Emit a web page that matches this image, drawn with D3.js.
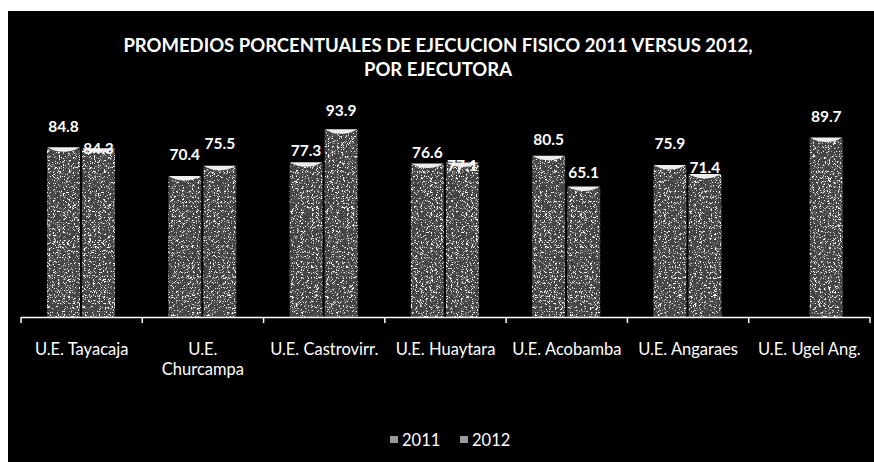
<!DOCTYPE html>
<html>
<head>
<meta charset="utf-8">
<style>
body { margin: 0; background: #fff; }
text { font-family: Lato, "Open Sans", sans-serif; fill: #fff; }
.title { font-weight: bold; font-size: 18.5px; }
.val { font-weight: bold; font-size: 15.5px; }
.cat { font-size: 16.5px; }
.leg { font-size: 16.5px; }
</style>
</head>
<body>
<svg width="874" height="462"></svg>
<script src="https://cdn.jsdelivr.net/npm/d3@7"></script>
<script>
// data
var categories = ["U.E. Tayacaja", "U.E. Churcampa", "U.E. Castrovirr.", "U.E. Huaytara", "U.E. Acobamba", "U.E. Angaraes", "U.E. Ugel Ang."];
var tickLabels = ["U.E. Tayacaja", "U.E.|Churcampa", "U.E. Castrovirr.", "U.E. Huaytara", "U.E. Acobamba", "U.E. Angaraes", "U.E. Ugel Ang."];
var years = ["2011", "2012"];
var v2011 = [84.8, 70.4, 77.3, 76.6, 80.5, 75.9, null];
var v2012 = [84.3, 75.5, 93.9, 77.1, 65.1, 71.4, 89.7];
// how high each data label sits above its bar (excel moved a few)
var lift2011 = [22, 22, 13, 12, 17, 22, 22];
var lift2012 = [1, 23, 20, -2, 15, 7, 22];

var svg = d3.select("svg");

svg.append("rect")
    .attr("x", 8).attr("y", 11)
    .attr("width", 866).attr("height", 451)
    .attr("fill", "#000");

var defs = svg.append("defs");
var f = defs.append("filter").attr("id", "grain")
    .attr("x", 0).attr("y", 0).attr("width", 1).attr("height", 1);
f.append("feTurbulence")
    .attr("type", "fractalNoise")
    .attr("baseFrequency", 2.2)
    .attr("numOctaves", 1)
    .attr("seed", 4)
    .attr("result", "n");
f.append("feColorMatrix")
    .attr("in", "n")
    .attr("type", "matrix")
    .attr("values", "0 0 0 0 1  0 0 0 0 1  0 0 0 0 1  10 0 0 0 -5.6")
    .attr("result", "dots");
f.append("feComposite")
    .attr("in", "dots").attr("in2", "SourceGraphic").attr("operator", "in");

svg.append("text")
    .attr("class", "title")
    .attr("x", 438).attr("y", 52)
    .attr("text-anchor", "middle")
    .text("PROMEDIOS PORCENTUALES DE EJECUCION FISICO 2011 VERSUS 2012,");
svg.append("text")
    .attr("class", "title")
    .attr("x", 438).attr("y", 76)
    .attr("text-anchor", "middle")
    .text("POR EJECUTORA");

var x = d3.scaleBand()
    .domain(categories)
    .range([21, 870]);
var x1 = d3.scaleBand()
    .domain(years)
    .range([26, 94])
    .paddingInner(0.06);
var y = d3.scaleLinear()
    .domain([0, 100])
    .range([317, 118]);

var rows = [];
categories.forEach(function(c, i) {
  rows.push({cat: c, year: "2011", value: v2011[i], lift: lift2011[i]});
  rows.push({cat: c, year: "2012", value: v2012[i], lift: lift2012[i]});
});
rows = rows.filter(function(d) { return d.value != null; });

var bars = svg.append("g").selectAll("g")
    .data(rows)
  .enter().append("g")
    .attr("transform", function(d) { return "translate(" + (x(d.cat) + x1(d.year)) + ",0)"; });

bars.append("rect")
    .attr("y", function(d) { return y(d.value); })
    .attr("width", x1.bandwidth())
    .attr("height", function(d) { return y(0) - y(d.value); })
    .attr("fill", "#444");
bars.append("rect")
    .attr("y", function(d) { return y(d.value); })
    .attr("width", x1.bandwidth())
    .attr("height", function(d) { return y(0) - y(d.value); })
    .attr("fill", "#000")
    .attr("filter", "url(#grain)");
// light cap at the top of each column
bars.append("path")
    .attr("fill", "#eee")
    .attr("d", function(d) {
      var w = x1.bandwidth(), t = y(d.value);
      return "M0," + (t - 1) + "L" + w + "," + (t - 1) +
        "Q" + (w / 2) + "," + (t + 8) + " 0," + (t - 1) + "Z";
    });

bars.append("text")
    .attr("class", "val")
    .attr("x", x1.bandwidth() / 2)
    .attr("y", function(d) { return y(d.value) - d.lift; })
    .attr("dy", "0.35em")
    .attr("text-anchor", "middle")
    .text(function(d) { return d.value.toFixed(1); });

// axis line with ticks between categories
svg.append("line")
    .attr("x1", x.range()[0]).attr("x2", x.range()[1])
    .attr("y1", y(0) + 0.5).attr("y2", y(0) + 0.5)
    .attr("stroke", "#fff").attr("stroke-width", 1.5);
svg.append("g").selectAll("line")
    .data(d3.range(categories.length + 1))
  .enter().append("line")
    .attr("x1", function(i) { return x.range()[0] + i * x.step(); })
    .attr("x2", function(i) { return x.range()[0] + i * x.step(); })
    .attr("y1", y(0)).attr("y2", y(0) + 6)
    .attr("stroke", "#fff").attr("stroke-width", 1.5);

var cats = svg.append("g").selectAll("text")
    .data(categories)
  .enter().append("text")
    .attr("class", "cat")
    .attr("text-anchor", "middle")
    .attr("x", function(d) { return x(d) + x.bandwidth() / 2; })
    .attr("y", 355);
cats.each(function(d, i) {
  var parts = tickLabels[i].split("|");
  var t = d3.select(this);
  parts.forEach(function(p, j) {
    t.append("tspan")
        .attr("x", x(d) + x.bandwidth() / 2)
        .attr("dy", j == 0 ? 0 : 20)
        .text(p);
  });
});

// legend
var legend = svg.append("g").selectAll("g")
    .data(years)
  .enter().append("g")
    .attr("transform", function(d, i) { return "translate(" + (390 + i * 70) + ",440)"; });
legend.append("rect")
    .attr("x", 0).attr("y", -4)
    .attr("width", 8).attr("height", 7)
    .attr("fill", "#999");
legend.append("text")
    .attr("class", "leg")
    .attr("x", 12)
    .attr("dy", "0.35em")
    .text(function(d) { return d; });
</script>
</body>
</html>
